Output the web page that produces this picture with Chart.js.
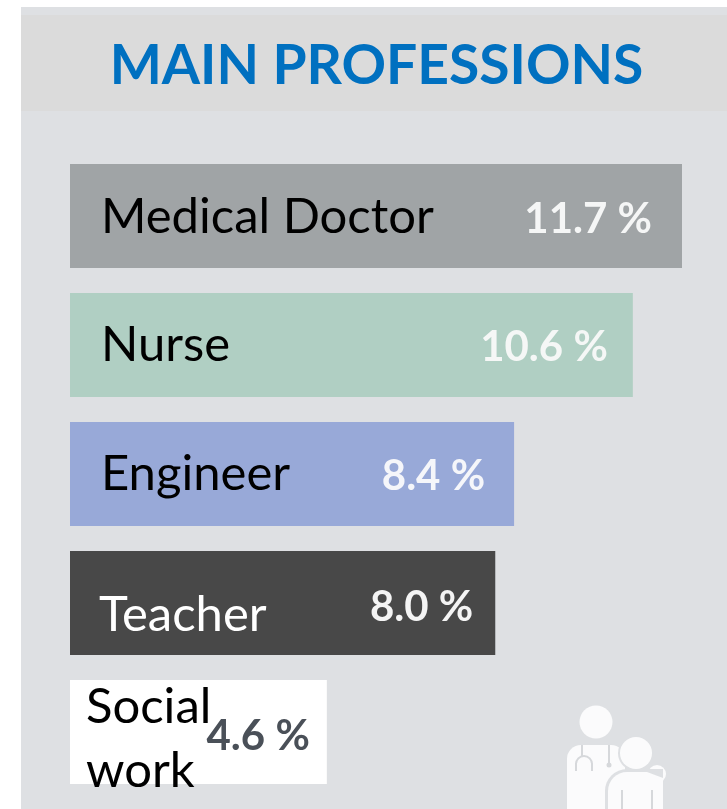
<!DOCTYPE html>
<html>
<head>
<meta charset="utf-8">
<title>Main professions</title>
<script src="https://cdn.jsdelivr.net/npm/chart.js@4/dist/chart.umd.min.js"></script>
<style>
  html, body { margin: 0; padding: 0; background: #fff; overflow: hidden; }
  #stage { position: relative; width: 727px; height: 809px; overflow: hidden; }
  #panel { position: absolute; left: 21px; top: 7px; right: 0; bottom: 0; background: #dee0e3; }
  #band { position: absolute; left: 21px; top: 15px; right: 0; height: 96px; background: #dbdbdb; }
  #title { position: absolute; left: 26px; right: 0; top: 27px; text-align: center; color: #0070c0;
           font: bold 55.2px Lato, sans-serif; line-height: 72px; white-space: nowrap; }
  #icon { position: absolute; left: 0; top: 0; }
  #chart { position: absolute; left: 0; top: 0; }
</style>
</head>
<body>
<div id="stage">
  <div id="panel"></div>
  <div id="band"></div>
  <div id="title">MAIN PROFESSIONS</div>
  <svg id="icon" width="727" height="809" fill="#fbfbfc">
    <circle cx="596" cy="722" r="16.5"/>
    <path d="M567 809 v-50 a14 14 0 0 1 14 -14 h30 a14 14 0 0 1 14 14 v50 z"/>
    <g fill="none" stroke="#d6d8db" stroke-width="2">
      <path d="M576 771 v-7 a8 8 0 0 1 16 0 v7"/>
      <path d="M582 745 v11"/>
      <path d="M609 745 v18"/>
    </g>
    <circle cx="609" cy="765" r="2.5" fill="#d6d8db"/>
    <circle cx="657" cy="774" r="9"/>
    <circle cx="636" cy="753" r="18" fill="#dee0e3"/>
    <circle cx="636" cy="753" r="16"/>
    <path d="M605 809 v-18 a22 22 0 0 1 22 -22 h36 v40 z" fill="#dee0e3"/>
    <path d="M608 809 v-18 a19 19 0 0 1 19 -19 h20 l16 6 v31 z"/>
    <path d="M622 790 v19 M652 790 v19" fill="none" stroke="#d6d8db" stroke-width="2"/>
  </svg>
  <canvas id="chart" width="727" height="809"></canvas>
</div>
<script>
const professions = ["Medical Doctor", "Nurse", "Engineer", "Teacher", "Social work"];
// percentages as printed on the bars
const printedShares = [11.7, 10.6, 8.4, 8.0, 4.6];
// bar lengths as drawn in the picture, the original is not quite proportional to its labels
const barLengths = [11.7, 10.76, 8.49, 8.13, 4.91];
const barColors = ["#a0a4a6", "#b0cfc3", "#98a9d8", "#484848", "#ffffff"];

// --- Text inside the bars ---
const nameLines = [["Medical Doctor"], ["Nurse"], ["Engineer"], ["Teacher"], ["Social", "work"]];
const nameColors = ["#000", "#000", "#000", "#fff", "#000"];
const nameOffsetX = [31, 31, 31, 29, 16];
const nameBaseline = [233, 361, 490, 631, 723];
const shareInset = [30, 25, 29, 22, 17];
const shareBaseline = [233, 361, 490, 621, 750];
const shareColors = ["#f5f6f6", "#f5f7f6", "#f5f6fa", "#f4f4f4", "#4a5058"];

const barText = {
  id: "barText",
  afterDatasetsDraw(chart) {
    const ctx = chart.ctx;
    const bars = chart.getDatasetMeta(0).data;
    ctx.save();
    ctx.textBaseline = "alphabetic";
    bars.forEach((bar, i) => {
      const left = bar.base;

      ctx.font = "49px Lato, sans-serif";
      ctx.fillStyle = nameColors[i];
      ctx.textAlign = "left";
      nameLines[i].forEach((line, n) => {
        ctx.fillText(line, left + nameOffsetX[i], nameBaseline[i] + n * 64);
      });

      ctx.font = "bold 42px Lato, sans-serif";
      ctx.fillStyle = shareColors[i];
      ctx.textAlign = "right";
      ctx.fillText(printedShares[i].toFixed(1) + " %", bar.x - shareInset[i], shareBaseline[i]);
    });
    ctx.restore();
  }
};

new Chart(document.getElementById("chart"), {
  type: "bar",
  data: {
    labels: professions,
    datasets: [{
      data: barLengths,
      backgroundColor: barColors,
      borderWidth: 0,
      barPercentage: 1,
      categoryPercentage: 104 / 129
    }]
  },
  options: {
    indexAxis: "y",
    responsive: false,
    animation: false,
    layout: { padding: { left: 70, top: 151.5, right: 0, bottom: 12.5 } },
    scales: {
      x: { display: false, min: 0, max: 657 / (612 / 11.7) },
      y: { display: false }
    },
    plugins: {
      legend: { display: false },
      title: { display: false },
      tooltip: { enabled: false }
    }
  },
  plugins: [barText]
});
</script>
</body>
</html>
